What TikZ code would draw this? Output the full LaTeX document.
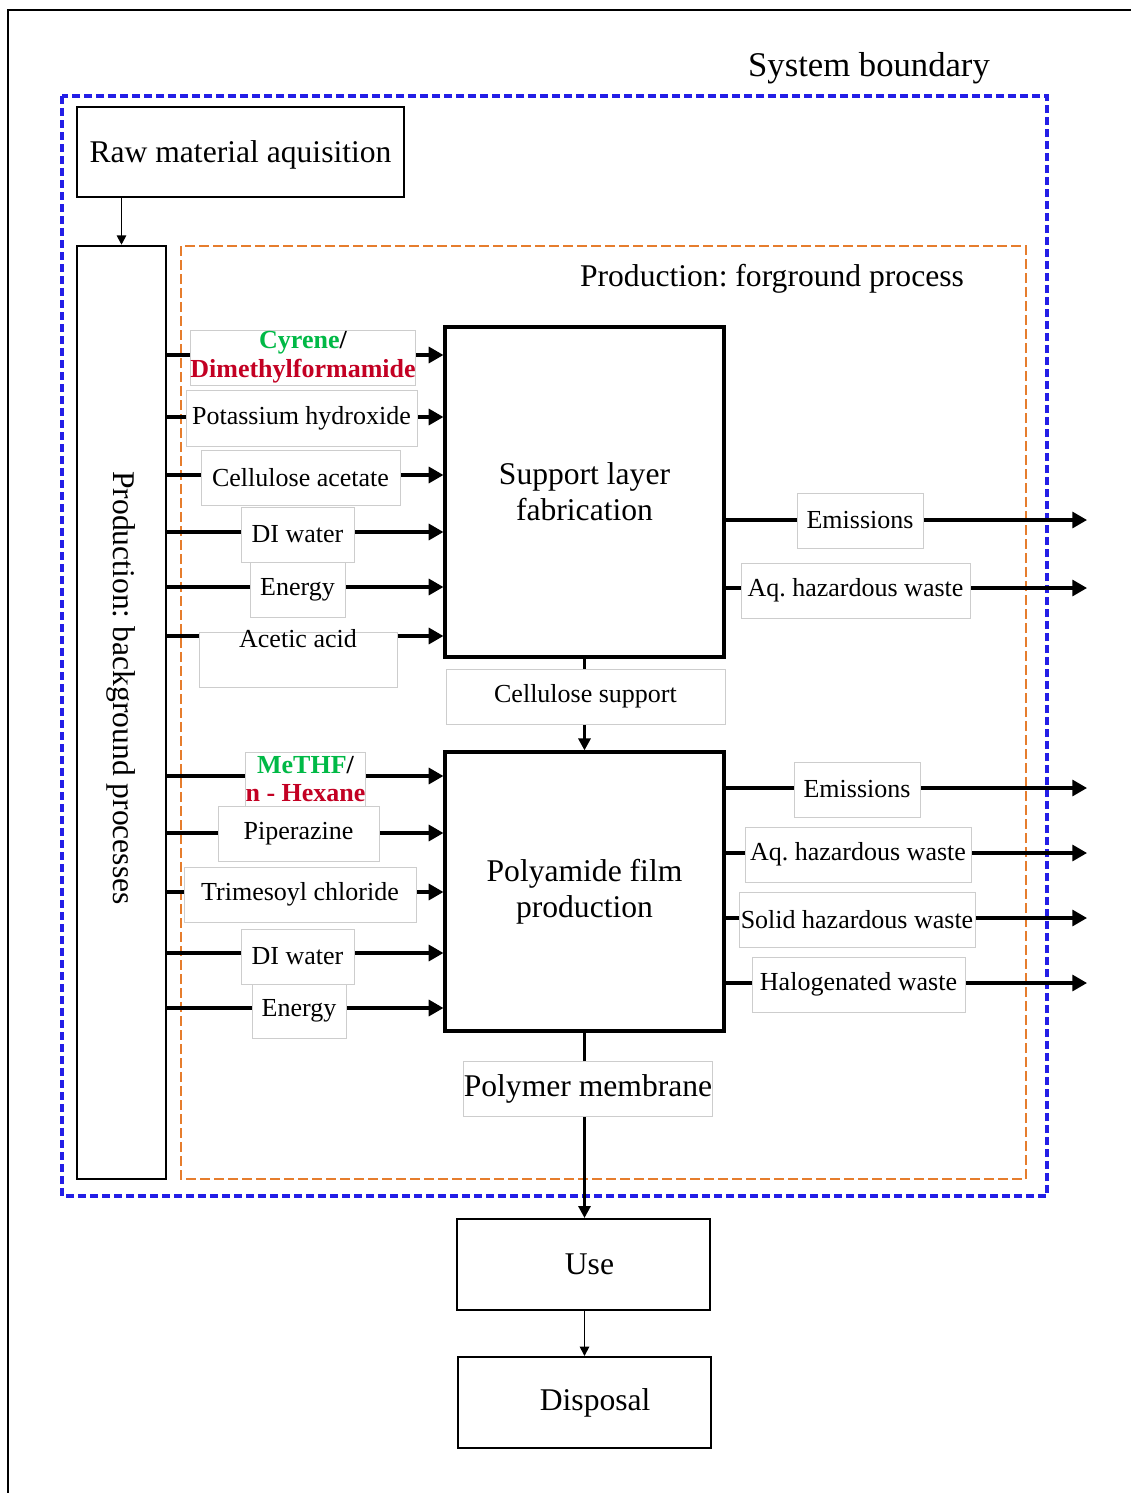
\documentclass[tikz,border=0pt]{standalone}
\usepackage{fontspec}
\setmainfont{Liberation Serif}
\usetikzlibrary{arrows.meta}
\frenchspacing
\definecolor{sbblue}{RGB}{35,30,230}
\definecolor{fgorange}{RGB}{230,125,45}
\definecolor{cygreen}{RGB}{0,185,70}
\definecolor{dmred}{RGB}{195,0,35}
\definecolor{boxgray}{RGB}{205,205,205}
\tikzset{
  bigfont/.style={font=\fontsize{23.7}{27}\selectfont},
  smallfont/.style={font=\fontsize{19.5}{22.5}\selectfont},
  mainbox/.style={draw, line width=2.4pt, minimum width=209.25pt, inner sep=0pt, align=center, bigfont},
  thinbox/.style={draw, line width=1.5pt, inner sep=0pt, align=center, bigfont},
  lab/.style={draw=boxgray, line width=0.75pt, fill=white, minimum height=41.25pt, inner sep=0pt, align=center, smallfont},
  conn/.style={line width=2.4pt, -{Triangle[length=11pt,width=12pt]}},
  plainline/.style={line width=2.4pt},
  smallconn/.style={line width=1.3pt, -{Triangle[length=7pt,width=7pt]}},
}
\begin{document}
\begin{tikzpicture}[x=0.75pt,y=-0.75pt]
\useasboundingbox (0,0) rectangle (1131,1493);
% outer frame
\draw[line width=1.5pt] (8,1493) -- (8,10) -- (1131,10);
% boundaries
\draw[sbblue, line width=2.4pt, dash pattern=on 6pt off 3pt] (62,96) rectangle (1047,1196);
\draw[fgorange, line width=1.9pt, dash pattern=on 7.5pt off 3pt] (181,246) rectangle (1026,1179);
\node[font=\fontsize{26}{30}\selectfont] (sbt) at (869,68) {System boundary};
\node[bigfont] (fgt) at (772,279) {Production: forground process};
% boxes
\node[thinbox, minimum width=245.25pt, minimum height=67.5pt, text height=19pt, text depth=3pt] (raw) at (240.5,152) {Raw material aquisition};
\node[draw, line width=1.9pt, minimum width=66.75pt, minimum height=699.75pt, inner sep=0pt] (bg) at (121.5,712.5) {};
\node[bigfont, rotate=-90] (bgt) at (121,688) {Production: background processes};
\node[mainbox, minimum height=247.5pt] (sup) at (584.5,492) {Support layer\\fabrication};
\node[mainbox, minimum height=209.25pt] (pa) at (584.5,891.5) {Polyamide film\\production};
\node[thinbox, minimum width=189.75pt, minimum height=68.25pt] (use) at (583.5,1264.5) {\hspace*{9pt}Use};
\node[thinbox, minimum width=189.75pt, minimum height=68.25pt] (disp) at (584.5,1402.5) {\hspace*{16pt}Disposal};
% vertical flow
\draw[smallconn] (bg.north |- raw.south) -- (bg.north);
\draw[plainline, -{Triangle[length=9pt,width=9pt]}] (sup.south) -- (pa.north);
\draw[plainline, -{Triangle[length=9pt,width=9pt]}] (pa.south) -- (pa.south |- use.north);
\draw[smallconn] (use.south -| disp.north) -- (disp.north);
% inputs to support layer
\foreach \yy in {355,417,475,532,587,636}
  \draw[conn] (bg.east |- 0,\yy) -- (sup.west |- 0,\yy);
% inputs to polyamide
\foreach \yy in {776,833,892,953,1008}
  \draw[conn] (bg.east |- 0,\yy) -- (pa.west |- 0,\yy);
% outputs
\coordinate (o1) at (1087,520);
\coordinate (o2) at (1087,588);
\coordinate (o3) at (1087,788);
\coordinate (o4) at (1087,853);
\coordinate (o5) at (1087,918);
\coordinate (o6) at (1087,983);
\draw[conn] (sup.east |- o1) -- (o1);
\draw[conn] (sup.east |- o2) -- (o2);
\draw[conn] (pa.east |- o3) -- (o3);
\draw[conn] (pa.east |- o4) -- (o4);
\draw[conn] (pa.east |- o5) -- (o5);
\draw[conn] (pa.east |- o6) -- (o6);
% labels on inputs
\node[lab, minimum width=163.5pt] (l1) at (303,357.5) {\bfseries\color{cygreen}Cyrene\color{black}/\\[-1pt]\bfseries\color{dmred}Dimethylformamide};
\node[lab, minimum width=173.25pt, minimum height=42pt] (l2) at (301.5,418) {Potassium hydroxide};
\node[lab, minimum width=149.25pt] (l3) at (300.5,477.5) {Cellulose acetate};
\node[lab, minimum width=84.75pt] (l4) at (297.5,534.5) {DI water};
\node[lab, minimum width=71.25pt] (l5) at (297.5,589.5) {Energy};
\node[lab, minimum width=148.5pt, label={[smallfont, anchor=center, yshift=-5pt]north:Acetic acid}] (l6) at (298,659.5) {};
\node[lab, minimum width=89.25pt, minimum height=40.5pt] (m1) at (305.5,779) {\bfseries\color{cygreen}MeTHF\color{black}/\\[-1pt]\bfseries\color{dmred}n - Hexane};
\node[lab, minimum width=120.75pt] (m2) at (298.5,833.5) {Piperazine};
\node[lab, minimum width=174pt] (m3) at (300,894.5) {Trimesoyl chloride};
\node[lab, minimum width=84.75pt] (m4) at (297.5,956.5) {DI water};
\node[lab, minimum width=70.5pt, minimum height=40.5pt] (m5) at (299,1011) {Energy};
% labels on outputs
\node[lab, minimum width=94.5pt] (e1) at (860,520.5) {Emissions};
\node[lab, minimum width=171.75pt] (e2) at (855.5,590.5) {Aq. hazardous waste};
\node[lab, minimum width=94.5pt] (f1) at (857,789.5) {Emissions};
\node[lab, minimum width=169.5pt] (f2) at (858,854.5) {Aq. hazardous waste};
\node[lab, minimum width=177pt] (f3) at (857,919.5) {Solid hazardous waste};
\node[lab, minimum width=159.75pt] (f4) at (858.5,984.5) {Halogenated waste};
% product labels
\node[lab, minimum width=209.25pt] (cs) at (585.5,696.5) {Cellulose support};
\node[lab, minimum width=181.5pt, bigfont] (pm) at (588,1088.5) {Polymer membrane};
\end{tikzpicture}
\end{document}
